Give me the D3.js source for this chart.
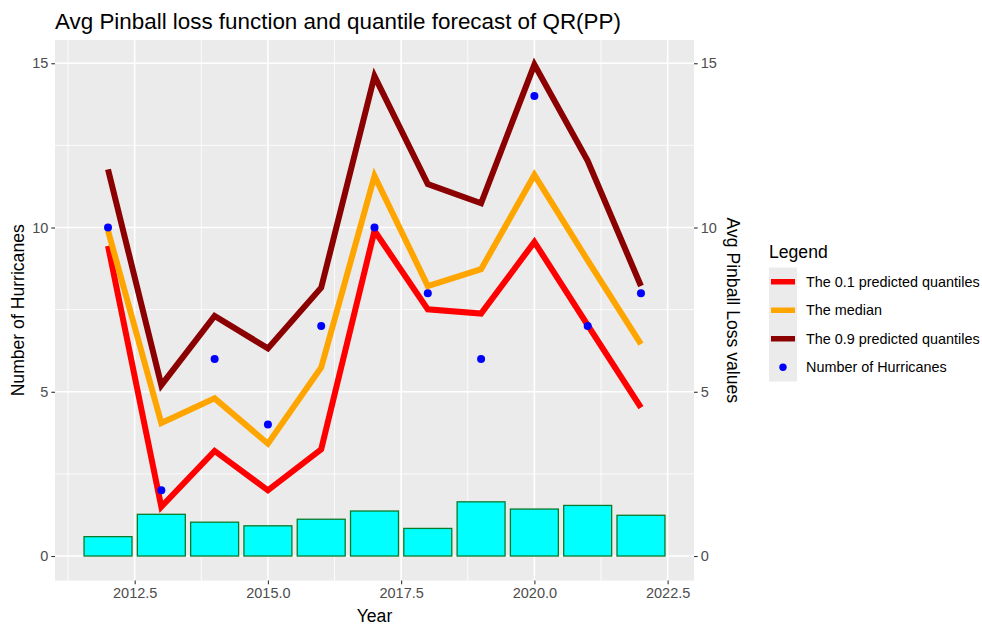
<!DOCTYPE html>
<html>
<head>
<meta charset="utf-8">
<script src="https://cdn.jsdelivr.net/npm/d3@7"></script>
<style>
  body { margin: 0; background: #ffffff; }
  svg { display: block; font-family: "Liberation Sans", Arial, sans-serif; }
</style>
</head>
<body>
<div class="chart"></div>
<script>
const WIDTH = 982;
const HEIGHT = 627;

const years = [2012, 2013, 2014, 2015, 2016, 2017, 2018, 2019, 2020, 2021, 2022];
const q10 = [9.44, 1.5, 3.2, 2.0, 3.25, 9.9, 7.51, 7.38, 9.56, 7.03, 4.52];
const median = [9.9, 4.05, 4.8, 3.42, 5.74, 11.57, 8.22, 8.73, 11.6, 9.0, 6.45];
const q90 = [11.77, 5.2, 7.31, 6.32, 8.17, 14.61, 11.32, 10.74, 14.96, 12.03, 8.22];
const hurricanes = [10, 2, 6, 4, 7, 10, 8, 6, 14, 7, 8];
const pinball = [0.59, 1.27, 1.03, 0.92, 1.12, 1.37, 0.84, 1.65, 1.43, 1.54, 1.24];

const xTicks = [2012.5, 2015, 2017.5, 2020, 2022.5];
const xMinor = [2011.25, 2013.75, 2016.25, 2018.75, 2021.25];
const yTicks = [0, 5, 10, 15];
const yMinor = [2.5, 7.5, 12.5];

const legendItems = [
  { label: 'The 0.1 predicted quantiles', color: '#FF0000', type: 'line' },
  { label: 'The median', color: '#FFA500', type: 'line' },
  { label: 'The 0.9 predicted quantiles', color: '#8B0000', type: 'line' },
  { label: 'Number of Hurricanes', color: '#0000FF', type: 'point' },
];

const panel = { left: 55, right: 694, top: 40, bottom: 580.6 };

const x = d3.scaleLinear().domain([2011.005, 2022.995]).range([panel.left, panel.right]);
const y = d3.scaleLinear().domain([-0.748, 15.708]).range([panel.bottom, panel.top]);

const svg = d3.select('.chart').append('svg')
  .attr('width', WIDTH)
  .attr('height', HEIGHT);

// panel background
svg.append('rect')
  .attr('x', panel.left)
  .attr('y', panel.top)
  .attr('width', panel.right - panel.left)
  .attr('height', panel.bottom - panel.top)
  .style('fill', '#EBEBEB');

// grid lines
const grid = svg.append('g');
grid.selectAll('.ymin').data(yMinor).enter().append('line')
  .attr('x1', panel.left).attr('x2', panel.right)
  .attr('y1', (d) => y(d)).attr('y2', (d) => y(d))
  .style('stroke', '#fff').style('stroke-width', 0.8);
grid.selectAll('.xmin').data(xMinor).enter().append('line')
  .attr('y1', panel.top).attr('y2', panel.bottom)
  .attr('x1', (d) => x(d)).attr('x2', (d) => x(d))
  .style('stroke', '#fff').style('stroke-width', 0.8);
grid.selectAll('.ymaj').data(yTicks).enter().append('line')
  .attr('x1', panel.left).attr('x2', panel.right)
  .attr('y1', (d) => y(d)).attr('y2', (d) => y(d))
  .style('stroke', '#fff').style('stroke-width', 1.6);
grid.selectAll('.xmaj').data(xTicks).enter().append('line')
  .attr('y1', panel.top).attr('y2', panel.bottom)
  .attr('x1', (d) => x(d)).attr('x2', (d) => x(d))
  .style('stroke', '#fff').style('stroke-width', 1.6);

// bars - avg pinball loss
svg.append('g').selectAll('rect')
  .data(years.map((yr, i) => ({ year: yr, value: pinball[i] })))
  .enter().append('rect')
  .attr('x', (d) => x(d.year - 0.45))
  .attr('width', (d) => x(d.year + 0.45) - x(d.year - 0.45))
  .attr('y', (d) => y(d.value))
  .attr('height', (d) => y(0) - y(d.value))
  .style('fill', '#00FFFF')
  .style('stroke', '#0B7A2A')
  .style('stroke-width', 1.3);

// quantile lines
const line = d3.line()
  .x((d) => x(d.year))
  .y((d) => y(d.value));

[[q10, '#FF0000'], [median, '#FFA500'], [q90, '#8B0000']].forEach(([series, color]) => {
  svg.append('path')
    .datum(years.map((yr, i) => ({ year: yr, value: series[i] })))
    .attr('d', line)
    .style('fill', 'none')
    .style('stroke', color)
    .style('stroke-width', 6)
    .style('stroke-linejoin', 'miter')
    .style('stroke-linecap', 'butt');
});

// hurricane points
svg.append('g').selectAll('circle')
  .data(years.map((yr, i) => ({ year: yr, value: hurricanes[i] })))
  .enter().append('circle')
  .attr('cx', (d) => x(d.year))
  .attr('cy', (d) => y(d.value))
  .attr('r', 4)
  .style('fill', '#0000FF');

// axes
const axisText = (sel) => sel.selectAll('text')
  .style('font-family', '"Liberation Sans", Arial, sans-serif')
  .style('font-size', '14.5px')
  .style('fill', '#4D4D4D');

const styleAxis = (sel) => {
  sel.select('.domain').remove();
  sel.selectAll('.tick line').style('stroke', '#333333').style('stroke-width', 1.1);
  axisText(sel);
};

svg.append('g')
  .attr('transform', `translate(0,${panel.bottom})`)
  .call(d3.axisBottom(x).tickValues(xTicks).tickFormat(d3.format('.1f')).tickSize(3.7).tickPadding(3))
  .call(styleAxis);

svg.append('g')
  .attr('transform', `translate(${panel.left},0)`)
  .call(d3.axisLeft(y).tickValues(yTicks).tickFormat(d3.format('d')).tickSize(3.7).tickPadding(3))
  .call(styleAxis);

svg.append('g')
  .attr('transform', `translate(${panel.right},0)`)
  .call(d3.axisRight(y).tickValues(yTicks).tickFormat(d3.format('d')).tickSize(3.7).tickPadding(3))
  .call(styleAxis);

// titles
svg.append('text')
  .attr('x', panel.left)
  .attr('y', 29)
  .text('Avg Pinball loss function and quantile forecast of QR(PP)')
  .style('font-size', '22.4px')
  .style('fill', '#000');

svg.append('text')
  .attr('x', (panel.left + panel.right) / 2)
  .attr('y', 622)
  .attr('text-anchor', 'middle')
  .text('Year')
  .style('font-size', '17.6px')
  .style('fill', '#000');

svg.append('text')
  .attr('transform', `translate(24,${(panel.top + panel.bottom) / 2}) rotate(-90)`)
  .attr('text-anchor', 'middle')
  .text('Number of Hurricanes')
  .style('font-size', '17.6px')
  .style('fill', '#000');

svg.append('text')
  .attr('transform', `translate(727,${(panel.top + panel.bottom) / 2}) rotate(90)`)
  .attr('text-anchor', 'middle')
  .text('Avg Pinball Loss values')
  .style('font-size', '17.6px')
  .style('fill', '#000');

// legend
const legend = svg.append('g').attr('transform', 'translate(769,0)');
legend.append('text')
  .attr('x', 0)
  .attr('y', 258)
  .text('Legend')
  .style('font-size', '17.6px')
  .style('fill', '#000');

const KEY_H = 28.5;
const keyTop = 267.5;
legend.append('rect')
  .attr('x', 0)
  .attr('y', keyTop)
  .attr('width', 28)
  .attr('height', KEY_H * legendItems.length)
  .style('fill', '#EBEBEB');

const item = legend.selectAll('.item').data(legendItems).enter().append('g')
  .attr('transform', (d, i) => `translate(0,${keyTop + KEY_H * i + KEY_H / 2})`);

item.filter((d) => d.type === 'line').append('line')
  .attr('x1', 2).attr('x2', 26)
  .attr('y1', 0).attr('y2', 0)
  .style('stroke', (d) => d.color)
  .style('stroke-width', 5.5);

item.filter((d) => d.type === 'point').append('circle')
  .attr('cx', 14).attr('cy', 0).attr('r', 3.7)
  .style('fill', (d) => d.color);

item.append('text')
  .attr('x', 37)
  .attr('dy', '0.35em')
  .text((d) => d.label)
  .style('font-size', '14.4px')
  .style('fill', '#000');
</script>
</body>
</html>
